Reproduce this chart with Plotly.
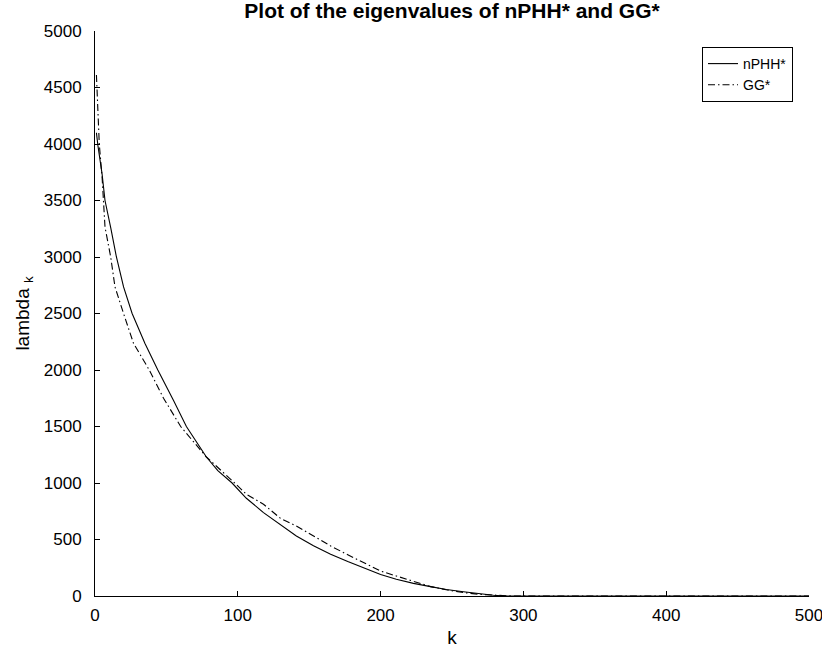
import plotly.graph_objects as go

# nPHH* eigenvalues
k_nphh = [1, 2, 5, 7, 11, 15, 20, 26, 35, 44, 55, 64, 78, 86, 96, 106, 118, 130, 141, 153, 165, 177, 188, 200, 211, 223, 235, 246, 258, 270, 279, 288, 500]
v_nphh = [4100, 3990, 3730, 3500, 3260, 3000, 2735, 2500, 2235, 2000, 1731, 1500, 1230, 1110, 1000, 865, 738, 633, 531, 445, 369, 305, 251, 190, 148, 112, 83, 58, 38, 18, 6, 0, 0]

# GG* eigenvalues
k_gg = [1, 2, 3, 5, 6, 7, 11, 14, 20, 27, 38, 48, 60, 78, 97, 106, 118, 130, 141, 153, 165, 177, 188, 200, 211, 223, 235, 246, 258, 270, 280, 292, 500]
v_gg = [4610, 4300, 4000, 3700, 3500, 3265, 3000, 2735, 2500, 2235, 2000, 1750, 1500, 1230, 1010, 900, 812, 686, 620, 530, 443, 365, 295, 221, 177, 128, 83, 55, 30, 14, 5, 0, 0]

x_ticks = [0, 100, 200, 300, 400, 500]
y_ticks = [0, 500, 1000, 1500, 2000, 2500, 3000, 3500, 4000, 4500, 5000]

FONT = "Liberation Sans, Arial, Helvetica, sans-serif"

L, R, T, B = 95, 13, 31, 52
W, H = 822, 648
PW, PH = W - L - R, H - T - B

fig = go.Figure()
fig.add_trace(go.Scatter(x=k_nphh, y=v_nphh, mode="lines", name="nPHH*",
                         line=dict(color="black", width=1.1)))
fig.add_trace(go.Scatter(x=k_gg, y=v_gg, mode="lines", name="GG*",
                         line=dict(color="black", width=1.1, dash="7px,3px,1.5px,3px")))

fig.update_layout(
    width=W, height=H,
    margin=dict(l=L, r=R, t=T, b=B, autoexpand=False),
    paper_bgcolor="white", plot_bgcolor="white",
    font=dict(family=FONT, size=17, color="black"),
    title=dict(text="<b>Plot of the eigenvalues of nPHH* and GG*</b>",
               x=0.5, xref="paper", xanchor="center",
               y=1 - 11 / H, yref="container", yanchor="middle",
               font=dict(family=FONT, size=21, color="black")),
    showlegend=True,
    legend=dict(x=(793 - L) / PW, y=(H - B - 47) / PH, xanchor="right", yanchor="top",
                bgcolor="white", bordercolor="black", borderwidth=1,
                font=dict(family=FONT, size=14, color="black"),
                tracegroupgap=0, itemwidth=30),
)
fig.update_xaxes(range=[0, 500], tickvals=x_ticks, showgrid=False, zeroline=False,
                 automargin=False, ticklabeloverflow="allow",
                 showline=True, linecolor="black", linewidth=1,
                 ticks="inside", ticklen=5, tickcolor="black", ticklabelstandoff=4,
                 tickfont=dict(size=17),
                 title=dict(text="k", standoff=6, font=dict(size=19)))
fig.update_yaxes(range=[0, 5000], tickvals=y_ticks, showgrid=False, zeroline=False,
                 automargin=False, ticklabeloverflow="allow",
                 showline=True, linecolor="black", linewidth=1,
                 ticks="inside", ticklen=5, tickcolor="black", ticklabelstandoff=9,
                 tickfont=dict(size=17),
                 title=dict(text="lambda <sub>k</sub>", standoff=9, font=dict(size=19)))

fig.write_html("out.html",
               config={"displayModeBar": False},
               post_script="document.body.style.margin='0';document.body.style.overflow='hidden';")
